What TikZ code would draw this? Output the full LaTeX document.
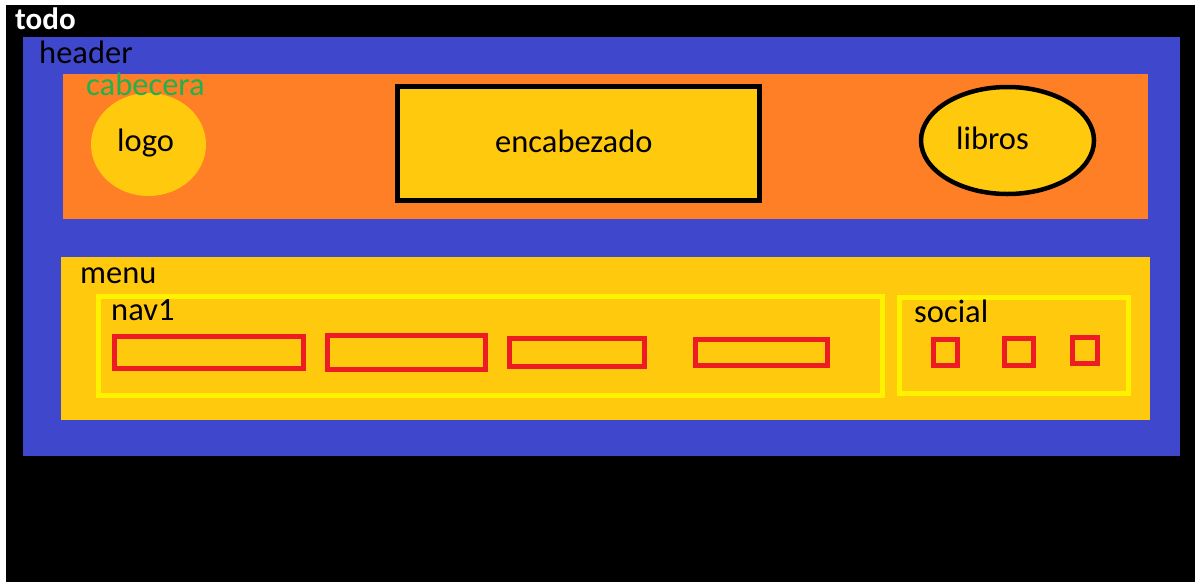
\documentclass[tikz,border=0pt]{standalone}
\usepackage{fontspec}
\setmainfont{Carlito}
\usetikzlibrary{positioning,shapes.geometric}
\definecolor{paintblue}{HTML}{3F48CC}
\definecolor{paintorange}{HTML}{FF7F27}
\definecolor{paintgold}{HTML}{FFC90E}
\definecolor{paintyellow}{HTML}{FFF200}
\definecolor{paintred}{HTML}{ED1C24}
\definecolor{paintgreen}{HTML}{22B14C}

\begin{document}
\begin{tikzpicture}[
    x=1pt, y=-1pt,
    lbl/.style={anchor=base west, inner sep=0pt, font=\fontsize{32.5}{38}\selectfont},
    navbox/.style={draw=paintyellow, line width=5pt},
    item/.style={draw=paintred, line width=5pt},
]
\useasboundingbox (0,0) rectangle (1204,582);
\fill[white] (0,0) rectangle (1204,582);
\fill[black] (6,5) rectangle (1195,582);
\fill[paintblue] (23,37) rectangle (1180,456);
\fill[paintorange] (63,74) rectangle (1148,219);
\fill[paintgold] (61,257) rectangle (1150,420);

\fill[paintgold] (148.5,144.5) ellipse [x radius=57.5, y radius=51.5];
\filldraw[fill=paintgold, draw=black, line width=5pt] (397.5,86.5) rectangle (759.5,200.5);
\filldraw[fill=paintgold, draw=black, line width=4.5pt] (1007.5,140.5) ellipse [x radius=86.5, y radius=53.5];

\draw[navbox] (98.5,296) rectangle (882.5,395);
\draw[navbox] (899.5,297.5) rectangle (1128,393);

\draw[item] (114.5,336.5) rectangle (303.5,368);
\draw[item] (327.5,335.5) rectangle (485,369);
\draw[item] (509.5,338.5) rectangle (644,366);
\draw[item] (695.5,339.5) rectangle (827.5,365);

\draw[item] (933.5,339.5) rectangle (957.5,365.5);
\draw[item] (1004.5,338.5) rectangle (1033.5,365.5);
\draw[item] (1072.5,337.5) rectangle (1097.5,363.5);

\node[lbl, text=white, font={\fontsize{31}{36}\selectfont\bfseries}] (todo) at (15,29) {todo};
\node[lbl] (header) at (39,63) {header};
\node[lbl, text=paintgreen] (cabecera) at (86,95) {cabecera};
\node[lbl] (logo) at (117,151) {logo};
\node[lbl] (encabezado) at (495,152) {encabezado};
\node[lbl] (libros) at (956,149) {libros};
\node[lbl] (menu) at (80,283) {menu};
\node[lbl] (nav) at (111,320) {nav1};
\node[lbl] (social) at (914,322) {social};
\end{tikzpicture}
\end{document}
